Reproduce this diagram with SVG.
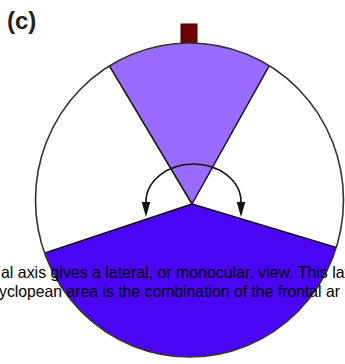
<svg xmlns="http://www.w3.org/2000/svg" width="345" height="364" viewBox="0 0 345 364">
<style>
.wedge{stroke:#111;stroke-width:1.5;stroke-linejoin:round}
.outline{fill:none;stroke:#333;stroke-width:1.6}
.lbl{font-family:"Liberation Sans",Arial,sans-serif;font-weight:bold;font-size:24px;fill:#222}
.cap{font-family:"Liberation Sans",Arial,sans-serif;font-size:16.5px;fill:#000}
.conn{fill:none;stroke:#111;stroke-width:1.6}
</style>
<defs>
<clipPath id="clipC"><ellipse cx="189.5" cy="200" rx="154" ry="157"/></clipPath>
<marker id="arr" viewBox="0 -5 16 10" refX="0" refY="0" markerWidth="16" markerHeight="10" markerUnits="userSpaceOnUse" orient="auto-start-reverse">
<path d="M0,-4.3 L15,0 L0,4.3 z" fill="#111"/>
</marker>
</defs>
<rect width="345" height="364" fill="#fff"/>
<text class="lbl" x="7" y="29">(c)</text>
<g id="eye-marker"><rect x="181" y="24" width="16" height="19" fill="#6e0000" stroke="#3a0000" stroke-width="1"/></g>
<g id="field" clip-path="url(#clipC)">
<ellipse cx="189.5" cy="200" rx="154" ry="157" fill="#fff"/>
<g id="frontal"><polygon class="wedge" points="192,204 70,0 306,0" fill="#9a6bff"/></g>
<g id="lateral"><polygon class="wedge" points="192,204 0,268 0,364 345,364 345,250" fill="#4a06f4"/></g>
</g>
<ellipse class="outline" cx="189.5" cy="200" rx="154" ry="157"/>
<g id="connectors">
<path class="conn" d="M146,202 A47.5,38 0 0 1 241,202" marker-start="url(#arr)" marker-end="url(#arr)"/>
</g>
<g id="caption">
<text class="cap" x="1" y="278" textLength="348" lengthAdjust="spacingAndGlyphs">al axis gives a lateral, or monocular, view. This lat</text>
<text class="cap" x="-1" y="297" textLength="341" lengthAdjust="spacingAndGlyphs">yclopean area is the combination of the frontal ar</text>
</g>
</svg>
